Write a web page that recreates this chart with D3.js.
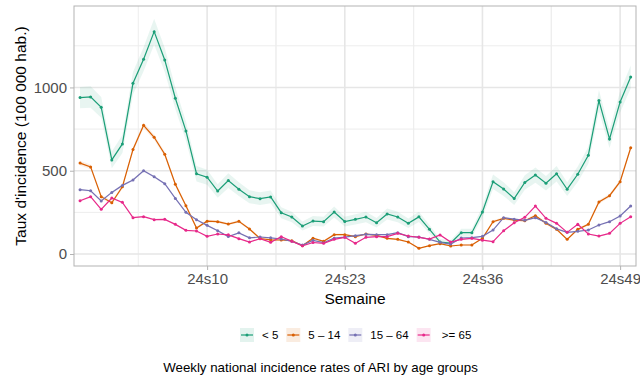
<!DOCTYPE html>
<html>
<head>
<meta charset="utf-8">
<script src="https://cdn.jsdelivr.net/npm/d3@7"></script>
<style>
  body { margin: 0; background: #fff; }
  svg { display: block; font-family: "Liberation Sans", Arial, sans-serif; }
</style>
</head>
<body>
<svg></svg>
<script>
const width = 640;
const height = 377;

// weeks shown on the x axis (23s50 .. 24s50)
const weeks = ["23s50","23s51","23s52",
  "24s01","24s02","24s03","24s04","24s05","24s06","24s07","24s08","24s09","24s10",
  "24s11","24s12","24s13","24s14","24s15","24s16","24s17","24s18","24s19","24s20",
  "24s21","24s22","24s23","24s24","24s25","24s26","24s27","24s28","24s29","24s30",
  "24s31","24s32","24s33","24s34","24s35","24s36","24s37","24s38","24s39","24s40",
  "24s41","24s42","24s43","24s44","24s45","24s46","24s47","24s48","24s49","24s50"];
const xBreaks = ["24s10", "24s23", "24s36", "24s49"];
const yBreaks = [0, 500, 1000];
const yMinor = [250, 750, 1250];

const groups = ["< 5", "5 \u2013 14", "15 \u2013 64", " >= 65"];
const colors = ["#1B9E77", "#D95F02", "#7570B3", "#E7298A"];
// rough width of the confidence band (times sqrt of rate) per group
const bandK = [2.1, 0.6, 0.3, 0.3];

const under5 = [939, 943, 881, 565, 661, 1025, 1169, 1335, 1165, 935, 739, 482, 461, 378, 441, 389, 344, 332,
  343, 248, 222, 168, 198, 194, 252, 195, 208, 222, 188, 240, 222, 185, 223, 148, 72, 66, 128, 128, 252, 434,
  390, 333, 430, 474, 425, 482, 389, 479, 593, 921, 691, 913, 1063];
const age5to14 = [546, 523, 344, 308, 404, 627, 773, 701, 599, 419, 290, 156, 197, 194, 180, 196, 150, 93,
  85, 84, 80, 49, 95, 76, 116, 116, 104, 120, 112, 94, 88, 72, 34, 50, 62, 48, 54, 54, 94, 194,
  214, 204, 200, 230, 184, 148, 88, 148, 178, 312, 350, 434, 638];
const age15to64 = [386, 380, 318, 370, 412, 444, 500, 464, 422, 334, 250, 206, 172, 140, 105, 127, 97, 102,
  97, 90, 76, 54, 82, 68, 95, 101, 110, 118, 116, 116, 128, 104, 102, 88, 70, 60, 96, 98, 106, 144,
  218, 209, 202, 218, 189, 151, 130, 136, 144, 174, 194, 228, 288];
const over65 = [320, 344, 268, 336, 310, 218, 224, 206, 208, 178, 142, 138, 106, 120, 115, 92, 72, 92,
  70, 104, 77, 49, 69, 64, 88, 100, 64, 100, 104, 104, 124, 108, 100, 90, 114, 72, 88, 94, 83, 74,
  140, 188, 220, 288, 214, 184, 130, 178, 120, 108, 124, 184, 224];

const seriesValues = [under5, age5to14, age15to64, over65];

const series = groups.map((g, gi) => ({
    name: g,
    color: colors[gi],
    values: seriesValues[gi].map((v, i) => ({
        i: i,
        v: v,
        lo: v - bandK[gi] * Math.sqrt(v),
        hi: v + bandK[gi] * Math.sqrt(v)
    }))
}));

const panel = {left: 74, right: 636, top: 6, bottom: 266};

const svg = d3.select('svg')
    .attr('width', width).attr('height', height);

const x = d3.scaleLinear()
    .domain([-0.57, weeks.length - 1 + 0.5])
    .range([panel.left, panel.right]);
const y = d3.scaleLinear()
    .domain([-72, 1489])
    .range([panel.bottom, panel.top]);

const xIdx = xBreaks.map(w => weeks.indexOf(w));
const xMinor = xIdx.map(i => i - 6.5).concat(xIdx.map(i => i + 6.5))
    .filter(i => x(i) > panel.left && x(i) < panel.right);

// grid
const grid = svg.append('g');
grid.selectAll('.ymin').data(yMinor).enter().append('line')
    .attr('x1', panel.left).attr('x2', panel.right)
    .attr('y1', d => y(d)).attr('y2', d => y(d))
    .style('stroke', '#ededed').style('stroke-width', 1);
grid.selectAll('.xmin').data(xMinor).enter().append('line')
    .attr('y1', panel.top).attr('y2', panel.bottom)
    .attr('x1', d => x(d)).attr('x2', d => x(d))
    .style('stroke', '#ededed').style('stroke-width', 1);
grid.selectAll('.ymaj').data(yBreaks).enter().append('line')
    .attr('x1', panel.left).attr('x2', panel.right)
    .attr('y1', d => y(d)).attr('y2', d => y(d))
    .style('stroke', '#e6e6e6').style('stroke-width', 1.6);
grid.selectAll('.xmaj').data(xIdx).enter().append('line')
    .attr('y1', panel.top).attr('y2', panel.bottom)
    .attr('x1', d => x(d)).attr('x2', d => x(d))
    .style('stroke', '#e6e6e6').style('stroke-width', 1.6);

// bands, lines, points
const area = d3.area()
    .x(d => x(d.i)).y0(d => y(d.lo)).y1(d => y(d.hi));
const line = d3.line()
    .x(d => x(d.i)).y(d => y(d.v));

svg.append('g').selectAll('path')
    .data(series).enter().append('path')
    .attr('d', d => area(d.values))
    .style('fill', d => d.color)
    .style('opacity', 0.1);

svg.append('g').selectAll('path')
    .data(series).enter().append('path')
    .attr('d', d => line(d.values))
    .style('fill', 'none')
    .style('stroke', d => d.color)
    .style('stroke-width', 1.2);

const pointGroups = svg.append('g').selectAll('g')
    .data(series).enter().append('g')
    .style('fill', d => d.color);
pointGroups.selectAll('circle')
    .data(d => d.values).enter().append('circle')
    .attr('cx', d => x(d.i))
    .attr('cy', d => y(d.v))
    .attr('r', 1.5);

// panel border
svg.append('rect')
    .attr('x', panel.left).attr('y', panel.top)
    .attr('width', panel.right - panel.left).attr('height', panel.bottom - panel.top)
    .style('fill', 'none').style('stroke', '#b3b3b3').style('stroke-width', 1);

// axes
const yAxis = svg.append('g')
    .attr('transform', `translate(${panel.left},0)`)
    .call(d3.axisLeft(y).tickValues(yBreaks).tickSize(4).tickPadding(3).tickFormat(d3.format('d')));
const xAxis = svg.append('g')
    .attr('transform', `translate(0,${panel.bottom})`)
    .call(d3.axisBottom(x).tickValues(xIdx).tickSize(4).tickPadding(3).tickFormat(i => weeks[i]));
[xAxis, yAxis].forEach(a => {
    a.select('.domain').remove();
    a.selectAll('.tick line').style('stroke', '#b3b3b3');
    a.selectAll('.tick text')
        .style('fill', '#4d4d4d')
        .style('font-size', '15px')
        .style('font-family', '"Liberation Sans", Arial, sans-serif');
});

svg.append('text')
    .attr('x', (panel.left + panel.right) / 2).attr('y', 304)
    .attr('text-anchor', 'middle')
    .style('font-size', '15.5px')
    .text('Semaine');

svg.append('text')
    .attr('transform', `translate(26,${(panel.top + panel.bottom) / 2}) rotate(-90)`)
    .attr('text-anchor', 'middle')
    .style('font-size', '15.5px')
    .text("Taux d'incidence (100 000 hab.)");

// legend
const legend = svg.append('g');
let lx = 240;
series.forEach(s => {
    const item = legend.append('g').attr('transform', `translate(${lx},328)`);
    item.append('rect')
        .attr('width', 14).attr('height', 14)
        .style('fill', s.color).style('opacity', 0.12);
    item.append('line')
        .attr('x1', 1).attr('x2', 13).attr('y1', 7).attr('y2', 7)
        .style('stroke', s.color).style('stroke-width', 1.2);
    item.append('circle')
        .attr('cx', 7).attr('cy', 7).attr('r', 1.5)
        .style('fill', s.color);
    const t = item.append('text')
        .attr('x', 22).attr('y', 11)
        .style('font-size', '11.5px')
        .style('white-space', 'pre')
        .attr('xml:space', 'preserve')
        .text(s.name);
    lx += 22 + t.node().getComputedTextLength() + 8;
});

svg.append('text')
    .attr('x', 320.5).attr('y', 372)
    .attr('text-anchor', 'middle')
    .style('font-size', '13.3px')
    .text('Weekly national incidence rates of ARI by age groups');
</script>
</body>
</html>
